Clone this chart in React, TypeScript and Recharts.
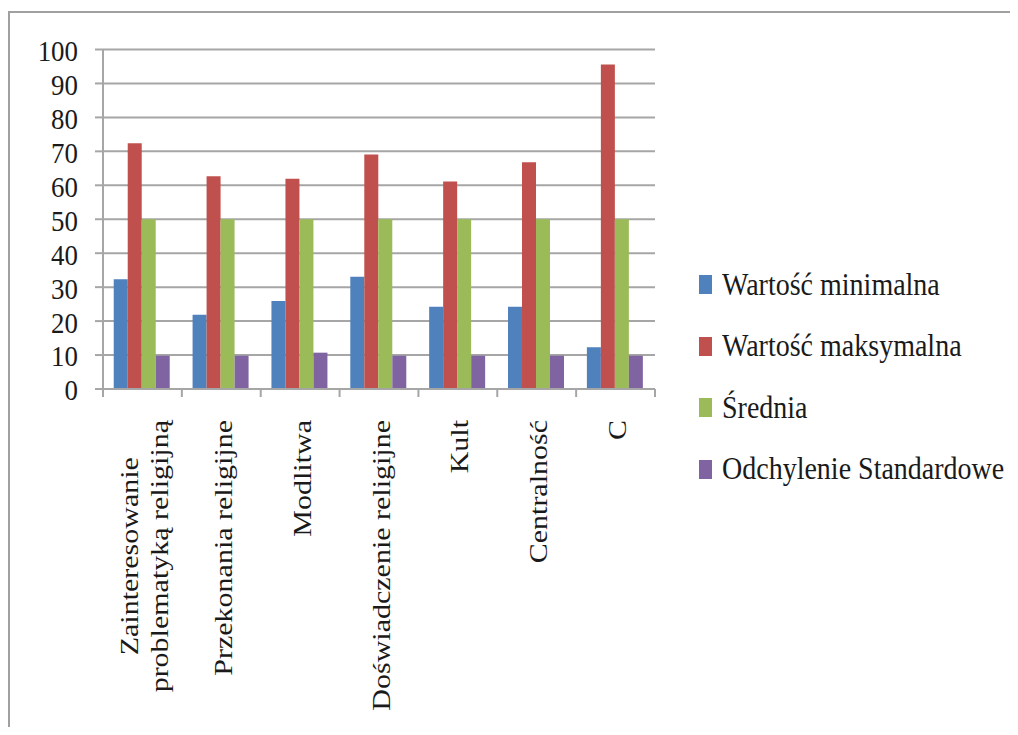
import { BarChart, Bar, XAxis, YAxis, CartesianGrid, Legend } from 'recharts'

const categories = [
  'Zainteresowanie\nproblematyką religijną',
  'Przekonania religijne',
  'Modlitwa',
  'Doświadczenie religijne',
  'Kult',
  'Centralność',
  'C',
]
const minValues  = [32.3, 21.9, 25.9, 33.1, 24.2, 24.2, 12.3]
const maxValues  = [72.4, 62.7, 61.9, 69.1, 61.1, 66.8, 95.6]
const meanValues = [50, 50, 50, 50, 50, 50, 50]
const sdValues   = [9.8, 9.8, 10.7, 9.8, 9.8, 9.8, 9.8]
const yTicks = [0, 10, 20, 30, 40, 50, 60, 70, 80, 90, 100]

const series = [
  { key: 'min',  name: 'Wartość minimalna',      color: '#4F81BD', values: minValues },
  { key: 'max',  name: 'Wartość maksymalna',     color: '#C0504D', values: maxValues },
  { key: 'mean', name: 'Średnia',                color: '#9BBB59', values: meanValues },
  { key: 'sd',   name: 'Odchylenie Standardowe', color: '#8064A2', values: sdValues },
]

const data = categories.map((c, i) => {
  const row: Record<string, string | number> = { category: c }
  for (const s of series) row[s.key] = s.values[i]
  return row
})

const FONT = '"Liberation Serif", "Times New Roman", serif'
const GRID = '#a6a6a6'
const LABEL_SIZE = 25
const LABEL_STRETCH = 1.2

let ctx: CanvasRenderingContext2D | null = null
function measure(text: string) {
  if (!ctx) ctx = document.createElement('canvas').getContext('2d')
  if (!ctx) return text.length * LABEL_SIZE * 0.45
  ctx.font = `${LABEL_SIZE}px ${FONT}`
  return ctx.measureText(text).width
}

// eslint-disable-next-line @typescript-eslint/no-explicit-any
function YTick(props: any) {
  const { x, y, payload } = props
  const ty = y + 1.5
  return (
    <text
      x={x} y={ty}
      textAnchor="end" dominantBaseline="central"
      fontFamily={FONT} fontSize={28} fill="#1a1a1a"
      transform={`translate(${x},${ty}) scale(0.96,1.05) translate(${-x},${-ty})`}
    >
      {payload.value}
    </text>
  )
}

// eslint-disable-next-line @typescript-eslint/no-explicit-any
function XTick(props: any) {
  const { x, y, payload, index, width } = props
  const band = (width ?? 552) / categories.length
  const axisY = y - 8
  const lines = String(payload.value).split('\n')
  const lens = lines.map(measure)
  const longest = Math.max(...lens)
  const topY = axisY + 31
  return (
    <g>
      <line x1={x - band / 2} x2={x - band / 2} y1={axisY} y2={axisY + 8} stroke={GRID} strokeWidth={2} />
      {index === categories.length - 1 && (
        <line x1={x + band / 2} x2={x + band / 2} y1={axisY} y2={axisY + 8} stroke={GRID} strokeWidth={2} />
      )}
      {lines.map((ln, i) => {
        const cx = x + 2 + (i - (lines.length - 1) / 2) * 30
        return (
          <text
            key={i}
            x={-(longest - lens[i]) / 2} y={0}
            textAnchor="end" dominantBaseline="central"
            fontFamily={FONT} fontSize={LABEL_SIZE} fill="#1a1a1a"
            transform={`translate(${cx},${topY}) rotate(-90) scale(${LABEL_STRETCH},1)`}
          >
            {ln}
          </text>
        )
      })}
    </g>
  )
}

function LegendBox() {
  return (
    <div style={{ fontFamily: FONT }}>
      {series.map(s => (
        <div key={s.key} style={{ height: 61.5, display: 'flex', alignItems: 'center', whiteSpace: 'nowrap' }}>
          <span style={{ width: 13, height: 19, background: s.color, display: 'inline-block', marginRight: 10 }} />
          <span style={{ fontSize: 28, color: '#1a1a1a', display: 'inline-block', transform: 'scaleY(1.14)' }}>{s.name}</span>
        </div>
      ))}
    </div>
  )
}

export default function App() {
  return (
    <div style={{ position: 'relative', width: 1002, height: 719 }}>
      <div style={{
        position: 'absolute', left: 0, top: 3, width: 1008, height: 716,
        borderLeft: '2px solid #a0a0a0', borderTop: '2px solid #a0a0a0', boxSizing: 'border-box',
      }} />
      <BarChart
        width={1002}
        height={719}
        data={data}
        margin={{ top: 41.5, right: 45, left: 0, bottom: 0 }}
        barCategoryGap="13.6%"
        barGap={0}
      >
        <CartesianGrid horizontal vertical={false} stroke={GRID} strokeWidth={2} />
        <XAxis
          dataKey="category"
          height={338}
          interval={0}
          tickSize={8}
          tickMargin={0}
          tickLine={false}
          axisLine={{ stroke: GRID, strokeWidth: 2 }}
          tick={<XTick />}
        />
        <YAxis
          width={95}
          domain={[0, 100]}
          ticks={yTicks}
          interval={0}
          tickSize={8}
          tickMargin={17}
          tickLine={{ stroke: GRID, strokeWidth: 2 }}
          axisLine={{ stroke: GRID, strokeWidth: 2 }}
          tick={<YTick />}
        />
        <Legend
          layout="vertical"
          align="right"
          verticalAlign="middle"
          content={<LegendBox />}
          wrapperStyle={{ left: 691, top: 246, width: 310 }}
        />
        {series.map(s => (
          <Bar key={s.key} dataKey={s.key} name={s.name} fill={s.color} isAnimationActive={false} />
        ))}
      </BarChart>
    </div>
  )
}
